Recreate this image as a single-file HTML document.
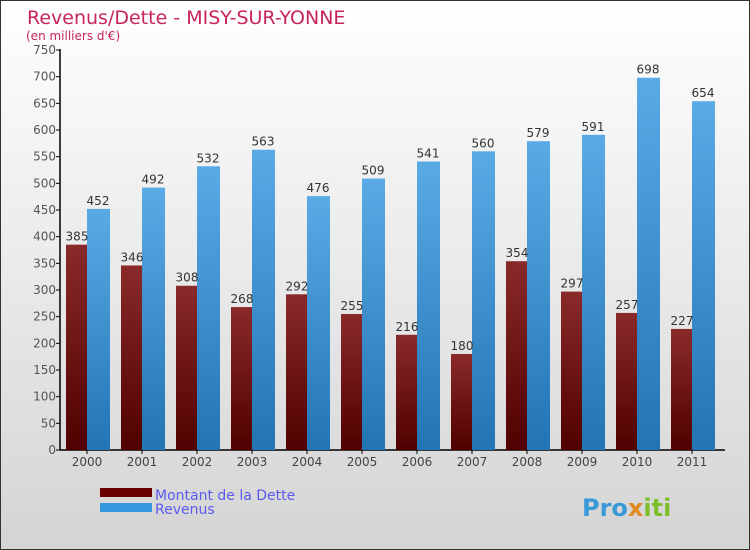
<!DOCTYPE html>
<html><head><meta charset="utf-8"><style>
body{margin:0}
#c{width:750px;height:550px;position:relative;overflow:hidden}
text{font-family:"DejaVu Sans","Liberation Sans",sans-serif}
</style></head><body>
<div id="c">
<svg id="s" width="750" height="550" xmlns="http://www.w3.org/2000/svg">
<defs>
<linearGradient id="bg" x1="0" y1="0" x2="0" y2="1"><stop offset="0" stop-color="#ffffff"/><stop offset="1" stop-color="#d4d4d4"/></linearGradient>
<linearGradient id="gd" x1="0" y1="0" x2="0" y2="1"><stop offset="0" stop-color="#8a2a2a"/><stop offset="1" stop-color="#500000"/></linearGradient>
<linearGradient id="gr" x1="0" y1="0" x2="0" y2="1"><stop offset="0" stop-color="#5aaae6"/><stop offset="1" stop-color="#2274b4"/></linearGradient>
</defs>
<rect x="0.5" y="0.5" width="749" height="549" fill="url(#bg)" stroke="#333"/>
<text x="27" y="24" font-size="19" fill="#c8245c">Revenus/Dette - MISY-SUR-YONNE</text>
<text x="26" y="40" font-size="12" fill="#c8245c">(en milliers d'€)</text>
<g id="plot"></g>
<rect x="100" y="488" width="52" height="9" fill="#6a0000"/>
<rect x="100" y="503" width="52" height="9" fill="#3398dd"/>
<text x="155" y="500" font-size="14" fill="#5a5aee">Montant de la Dette</text>
<text x="155" y="514" font-size="14" fill="#5a5aee">Revenus</text>
<text x="582" y="516" font-size="24" font-weight="bold" fill="#3a9ad8">Pro<tspan fill="#e08a20">x</tspan><tspan fill="#7cbf2a">iti</tspan></text>
</svg>
</div>
<script>
const years=["2000","2001","2002","2003","2004","2005","2006","2007","2008","2009","2010","2011"];
const dette=[385,346,308,268,292,255,216,180,354,297,257,227];
const revenus=[452,492,532,563,476,509,541,560,579,591,698,654];
const ticks=[0,50,100,150,200,250,300,350,400,450,500,550,600,650,700,750];
const NS="http://www.w3.org/2000/svg";
const g=document.getElementById('plot');
const y0=450,k=400/750,x0=60,step=55,first=87;
const Y=v=>y0-v*k;
const X=i=>first+i*step;
function mk(t,a,txt){const e=document.createElementNS(NS,t);for(const n in a)e.setAttribute(n,a[n]);if(txt!==undefined)e.textContent=txt;g.appendChild(e);return e;}
let ax=mk('line',{x1:x0,y1:Y(750)-1,x2:x0,y2:y0,stroke:'#000','stroke-width':1.5});


let bx=mk('line',{x1:x0,y1:y0,x2:725,y2:y0,stroke:'#000','stroke-width':1.5});


ticks.forEach(t=>{
 let l=mk('line',{x1:x0-4,y1:Y(t),x2:x0,y2:Y(t),stroke:'#000'});
 
 
 let tx=mk('text',{x:x0-4,y:Y(t)+4,'font-size':12,fill:'#555','text-anchor':'end'},t);
 
 
});
years.forEach((yr,i)=>{
 const c=X(i);
 let t=mk('line',{x1:c,y1:y0,x2:c,y2:y0+4,stroke:'#000'});
 
 
 let lb=mk('text',{x:c,y:y0+16,'font-size':12,fill:'#444','text-anchor':'middle'},yr);
 
 
 let b1=mk('rect',{x:c-21,y:Y(dette[i]),width:21,height:dette[i]*k,fill:'url(#gd)'});
 
 
 let b2=mk('rect',{x:c,y:Y(revenus[i]),width:23,height:revenus[i]*k,fill:'url(#gr)'});
 
 
 let v1=mk('text',{x:c-10,y:Y(dette[i])-4,'font-size':12,fill:'#333','text-anchor':'middle'},dette[i]);
 
 
 let v2=mk('text',{x:c+11,y:Y(revenus[i])-4,'font-size':12,fill:'#333','text-anchor':'middle'},revenus[i]);
 
 
});
</script>
</body></html>
